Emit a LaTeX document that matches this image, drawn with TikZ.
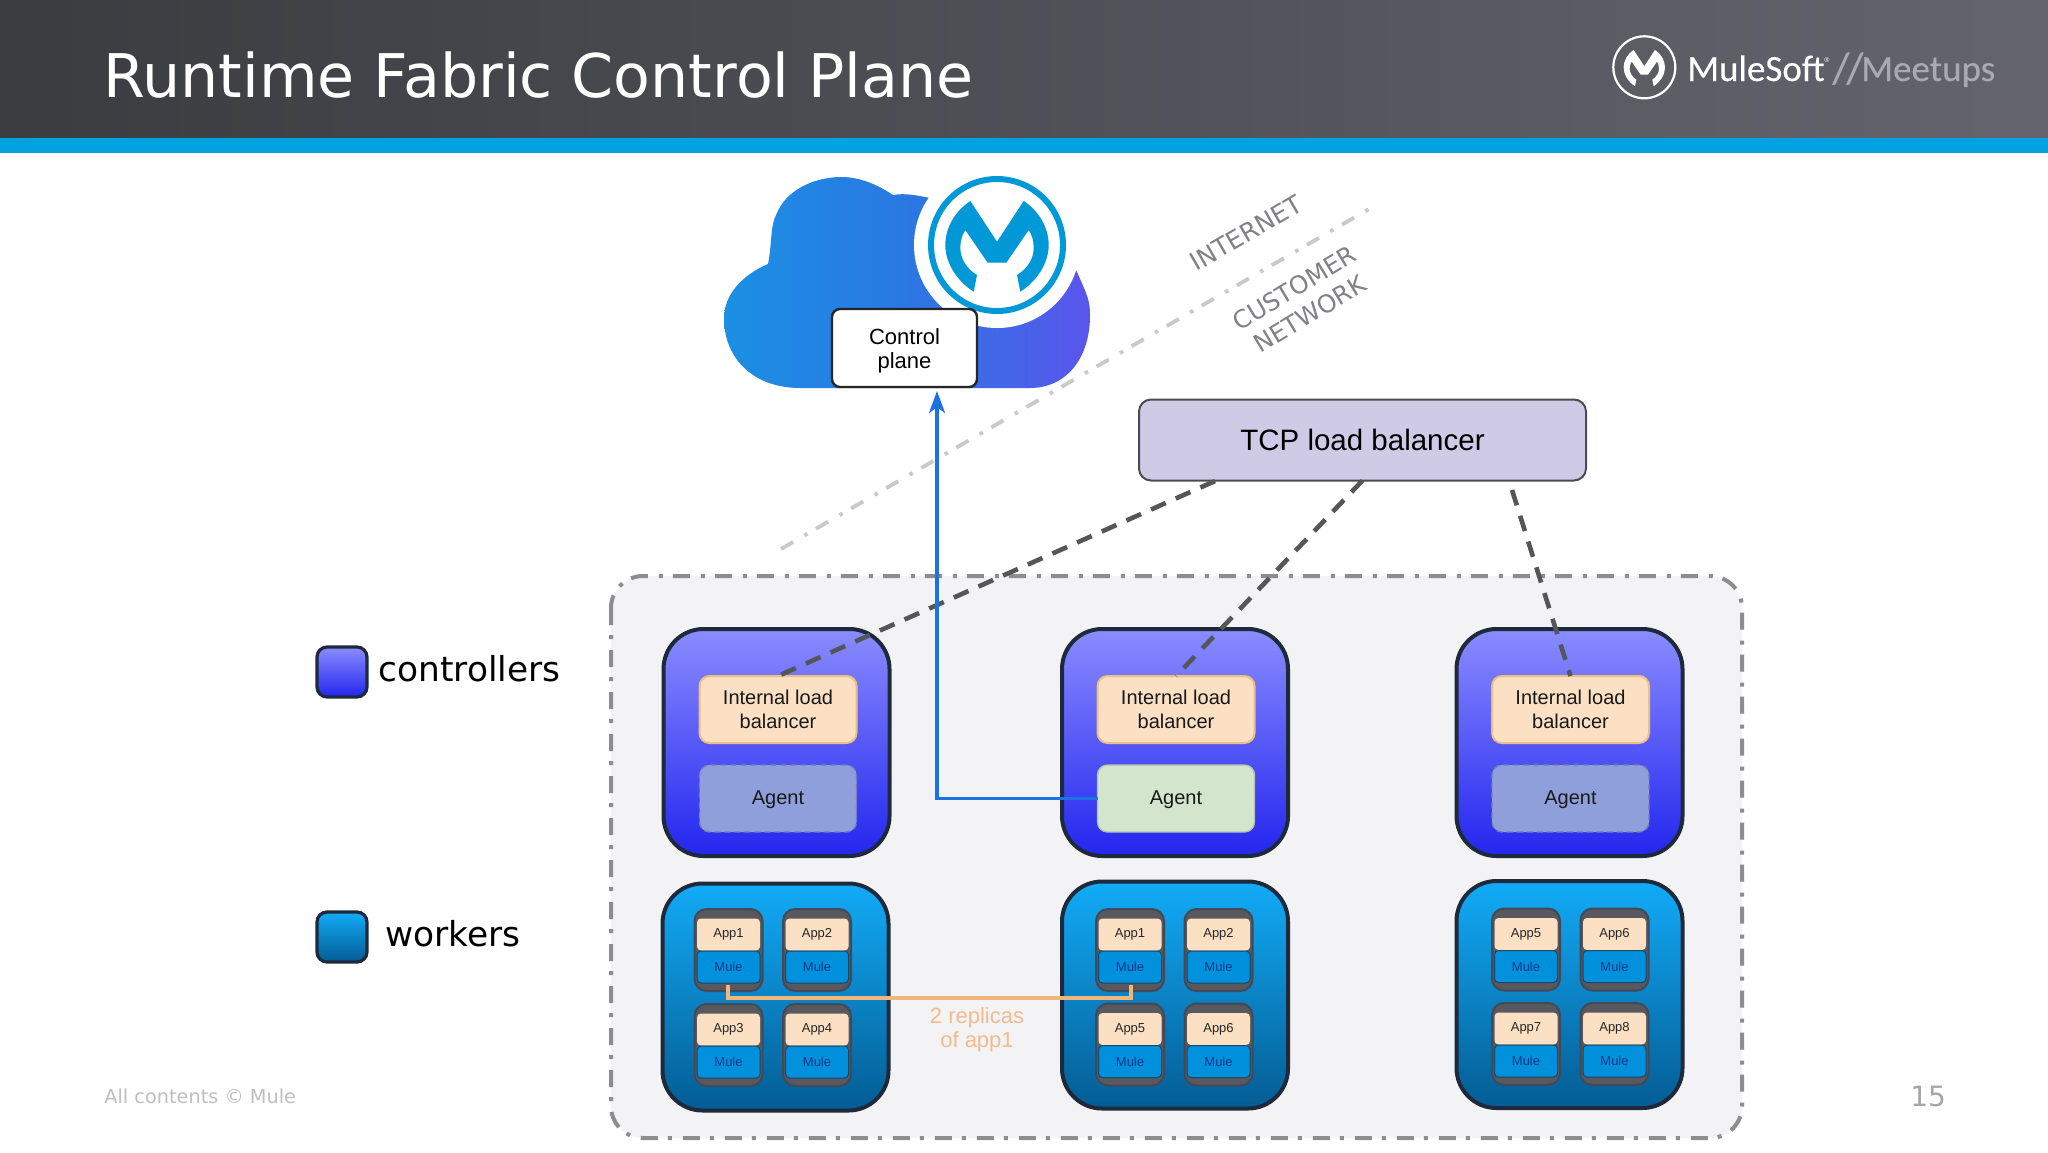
\documentclass[tikz,border=0pt]{standalone}
\usepackage{fontspec}
\setmainfont{Liberation Sans}
\newfontfamily\dv{DejaVu Sans}
\newfontfamily\logofont[FakeBold=0.3]{Carlito}
\usetikzlibrary{arrows.meta,calc}
\definecolor{hdl}{HTML}{3B3C40}\definecolor{hdr}{HTML}{63646D}
\definecolor{strip}{HTML}{00A3DF}\definecolor{muleblue}{HTML}{0098D6}
\definecolor{panel}{HTML}{F3F3F5}\definecolor{panelline}{HTML}{8C8C91}
\definecolor{bordr}{HTML}{1E2A3C}\definecolor{ctop}{HTML}{8A8CFF}\definecolor{cbot}{HTML}{2326EE}
\definecolor{wtop}{HTML}{12ABF7}\definecolor{wbot}{HTML}{045C94}
\definecolor{peach}{HTML}{FBE0C4}\definecolor{peachline}{HTML}{EBC080}
\definecolor{agentb}{HTML}{8F9FDC}\definecolor{agentg}{HTML}{D3E6CD}
\definecolor{cardbg}{HTML}{58585E}\definecolor{mulef}{HTML}{0090DC}\definecolor{muletx}{HTML}{0A3A8A}
\definecolor{netline}{HTML}{C9C9C9}\definecolor{nettext}{HTML}{818186}
\definecolor{dashl}{HTML}{55565C}\definecolor{arrowb}{HTML}{1A73E0}
\definecolor{repl}{HTML}{F0B67C}\definecolor{repltx}{HTML}{F2BB8C}
\definecolor{tcpf}{HTML}{CFCAE6}
\definecolor{cloudl}{HTML}{1B8FE3}\definecolor{cloudm}{HTML}{2A78E2}\definecolor{cloudr}{HTML}{5A55EC}
\tikzset{
  wh/.style 2 args={minimum width=#1*0.5pt,minimum height=#2*0.5pt,inner sep=0pt,outer sep=0pt},
  dd/.style={dash pattern=on 8.5pt off 5pt on 2pt off 5.5pt},
  controller/.style={wh={226}{227},rounded corners=20pt,draw=bordr,line width=2pt,top color=ctop,bottom color=cbot},
  worker/.style={wh={226}{227},rounded corners=20pt,draw=bordr,line width=2pt,top color=wtop,bottom color=wbot},
  ilb/.style={wh={157}{67},rounded corners=5pt,fill=peach,draw=peachline,line width=1pt,align=center,font=\fontsize{10}{12}\selectfont,text=black!90},
  agent/.style={wh={157}{67},rounded corners=5pt,line width=.7pt,text height=8.7pt,text depth=2.6pt,font=\fontsize{10}{12}\selectfont,text=black!90},
  card/.style={wh={68}{82},rounded corners=6pt,fill=cardbg,draw=bordr!85!white,line width=1pt},
  appbox/.style={wh={63}{32},rounded corners=2pt,fill=peach,font=\fontsize{6.5}{8}\selectfont,text=black!85},
  mulebox/.style={wh={63}{32},rounded corners=2pt,fill=mulef,draw=bordr!70!mulef,line width=.5pt,font=\fontsize{6.5}{8}\selectfont,text=muletx},
  legendbox/.style={wh={50}{50},rounded corners=5pt,draw=bordr,line width=1.6pt},
  dashc/.style={draw=dashl,line width=2.3pt,dash pattern=on 8pt off 5.5pt},
}
\newcommand{\cardcell}[4]{% name, left, top, app text
  \node[card,anchor=north west] (#1) at (#2,#3) {};
  \node[appbox,anchor=north] (#1a) at ($(#1.north)+(0,9.5)$) {#4};
  \node[mulebox,anchor=north] (#1m) at ($(#1.north)+(0,42)$) {Mule};
}
\newcommand{\mglyph}[4]{% x,y,scale,colour
  \fill[#4,shift={(#1,#2)},scale=#3] (-26.7,-44) -- (0,-3.3) -- (26.7,-44)
    .. controls (42,-34) and (51.7,-17) .. (51.7,0)
    .. controls (51.7,18) and (40,36) .. (23.3,46.7)
    -- (20,30)
    .. controls (30,24) and (36.7,14) .. (36.7,3)
    .. controls (36.7,-4) and (35,-10) .. (31.7,-15)
    -- (9.3,17.7) -- (-9.3,17.7) -- (-31.7,-15)
    .. controls (-35,-10) and (-36.7,-4) .. (-36.7,3)
    .. controls (-36.7,14) and (-30,24) .. (-20,30)
    -- (-23.3,46.7)
    .. controls (-40,36) and (-51.7,18) .. (-51.7,0)
    .. controls (-51.7,-17) and (-42,-34) .. (-26.7,-44) -- cycle;
}
\begin{document}
\begin{tikzpicture}[x=0.5pt,y=-0.5pt]
\useasboundingbox (0,0) rectangle (2048,1152);
\fill[white] (0,0) rectangle (2048,1152);
% header
\path[left color=hdl,right color=hdr] (0,0) rectangle (2048,138);
\fill[strip] (0,138) rectangle (2048,153);
\node[anchor=base west,inner sep=0pt,text=white,font=\dv\fontsize{30.1}{32}\selectfont] (title) at (103,97) {Runtime Fabric Control Plane};
% small logo
\node[circle,wh={62}{62},draw=white,line width=1.1pt] (smalllogo) at (1644.3,67.3) {};
\mglyph{1644.3}{67.5}{0.40}{white}
\node[anchor=base west,inner sep=0pt,text=white,font=\logofont\fontsize{18.5}{20}\selectfont] (mulesoft) at (1687,81) {MuleSoft};
\node[inner sep=0pt,text=white,font=\fontsize{3.5}{4}\selectfont] (reg) at (1827,60) {®};
\node[anchor=base west,inner sep=0pt,text=hdr!55!white,font=\logofont\fontsize{22}{24}\selectfont] (slashes) at (1832,83) {/\kern-1.5pt/};
\node[anchor=base west,inner sep=0pt,text=hdr!55!white,font=\logofont\fontsize{18.5}{20}\selectfont] (meetups) at (1861,81) {Meetups};
% network boundary
\coordinate (neta) at (781,549);
\coordinate (netb) at (1369,209);
\draw[netline,line width=1.9pt,dash pattern=on 7pt off 6.5pt on 1.8pt off 4.95pt] (neta) -- (netb);
\node[rotate=30,text=nettext,font=\dv\fontsize{12.5}{15}\selectfont] (internet) at (1246,233) {INTERNET};
\node[rotate=31,text=nettext,align=center,font=\dv\fontsize{12.3}{15}\selectfont] (customer) at (1302,301) {CUSTOMER\\NETWORK};
% cloud
\path[left color=cloudl,right color=cloudr,middle color=cloudm]
  (800,388) .. controls (755,388) and (724,360) .. (724,318)
  .. controls (724,295) and (742,275) .. (768,264)
  .. controls (772,245) and (770,225) .. (777,213)
  .. controls (785,193) and (810,177) .. (842,177)
  .. controls (860,177) and (878,185) .. (893,195)
  .. controls (905,193) and (915,195) .. (930,198)
  -- (1050,230) -- (1077,272)
  .. controls (1087,295) and (1090,300) .. (1090,315)
  .. controls (1090,360) and (1065,388) .. (1030,388) -- cycle;
\node[circle,wh={166}{166},fill=white] (halo) at (997,245) {};
\node[circle,wh={132}{132},draw=muleblue,line width=3pt,fill=white] (ring) at (997,245) {};
\mglyph{997}{245}{1}{muleblue}
\node[wh={145}{78},rounded corners=4pt,fill=white,draw=black!85,line width=1.2pt,align=center,font=\fontsize{11}{12}\selectfont] (cp) at (904.5,348) {\rule{0pt}{10.6pt}Control\\plane};
% panel
\draw[panelline,fill=panel,line width=2pt,dd,rounded corners=16pt] (611,576) rectangle (1742,1138);
% TCP
\node[wh={447}{81},rounded corners=6pt,fill=tcpf,draw=black!70,line width=1pt,font=\fontsize{14.75}{16}\selectfont] (tcp) at (1362.5,440) {TCP load balancer};
% controllers
\node[controller] (ctl1) at (776.5,742.5) {};
\node[controller] (ctl2) at (1175,742.5) {};
\node[controller] (ctl3) at (1569.5,742.5) {};
\node[ilb] (ilb1) at (778,709.5) {Internal load\\balancer};
\node[ilb] (ilb2) at (1176,709.5) {Internal load\\balancer};
\node[ilb] (ilb3) at (1570.5,709.5) {Internal load\\balancer};
\node[agent,fill=agentb,draw=agentb!80!black,densely dashed] (ag1) at (778,798.5) {Agent};
\node[agent,fill=agentg,draw=agentg!85!black] (ag2) at (1176,798.5) {Agent};
\node[agent,fill=agentb,draw=agentb!80!black,densely dashed] (ag3) at (1570.5,798.5) {Agent};
% workers
\node[worker] (wk1) at (775.5,997) {};
\node[worker] (wk2) at (1175,995) {};
\node[worker] (wk3) at (1569.5,994.5) {};
\cardcell{a1}{694.5}{909}{App1}
\cardcell{a2}{783}{909}{App2}
\cardcell{a3}{694.5}{1004}{App3}
\cardcell{a4}{783}{1004}{App4}
\cardcell{b1}{1096}{909}{App1}
\cardcell{b2}{1184.5}{909}{App2}
\cardcell{b3}{1096}{1003.5}{App5}
\cardcell{b4}{1184.5}{1003.5}{App6}
\cardcell{c1}{1492}{908.5}{App5}
\cardcell{c2}{1580.5}{908.5}{App6}
\cardcell{c3}{1492}{1003}{App7}
\cardcell{c4}{1580.5}{1003}{App8}
% connectors
\coordinate (tcpa) at (1215,481);
\coordinate (tcpc) at (1512,490);
\draw[dashc] (tcpa) -- (ilb1.north);
\draw[dashc] (tcp.south) -- (ilb2.north);
\draw[dashc] (tcpc) -- (ilb3.north);
\coordinate (elbow) at (937,798.5);
\coordinate (cptip) at (937,391);
\draw[arrowb,line width=1.8pt,-{Stealth[length=11pt,width=8pt,inset=3pt]}] (ag2.west) -- (elbow) -- (cptip);
\coordinate (r1) at (728,997.5);
\coordinate (r2) at (1131,997.5);
\coordinate (r1t) at (728,985);
\coordinate (r2t) at (1131,985);
\draw[repl,line width=2pt] (r1t) -- (r1) -- (r2) -- (r2t);
\node[text=repltx,align=center,font=\fontsize{11}{12}\selectfont] (replicas) at (977,1030) {2 replicas\\of app1};
% legend
\node[legendbox,top color=ctop,bottom color=cbot] (lc) at (342,672) {};
\node[legendbox,top color=wtop,bottom color=wbot] (lw) at (342,937) {};
\node[anchor=base west,inner sep=0pt,text=black,font=\dv\fontsize{17.2}{20}\selectfont] (lct) at (378,681) {controllers};
\node[anchor=base west,inner sep=0pt,text=black,font=\dv\fontsize{17.2}{20}\selectfont] (lwt) at (385,946) {workers};
% footer
\node[anchor=base west,inner sep=0pt,text=black!25,font=\dv\fontsize{9.65}{12}\selectfont] (foot) at (104,1103) {All contents © Mule};
\node[anchor=base west,inner sep=0pt,text=black!35,font=\dv\fontsize{14}{16}\selectfont] (page) at (1910,1106) {15};
\end{tikzpicture}
\end{document}
